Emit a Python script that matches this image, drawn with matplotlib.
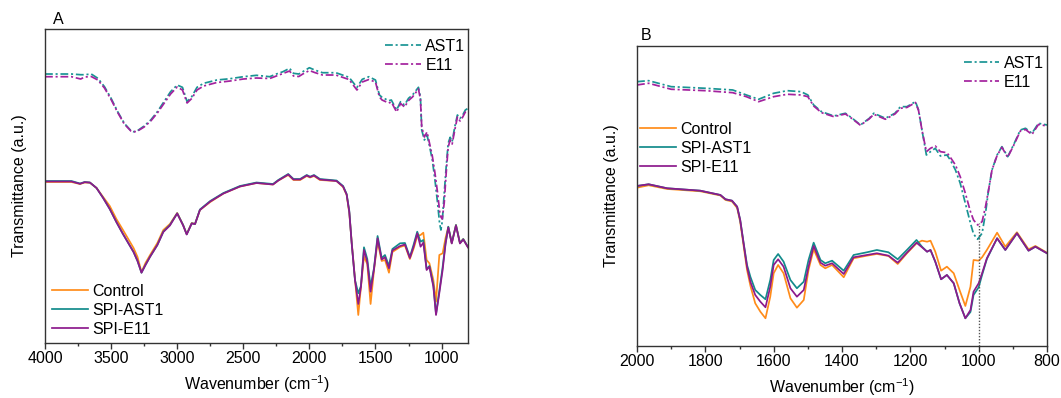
import matplotlib
matplotlib.use("Agg")
import matplotlib.pyplot as plt
from matplotlib.ticker import MultipleLocator

plt.rcParams['font.family'] = ['Liberation Sans', 'DejaVu Sans']
plt.rcParams['mathtext.fontset'] = 'custom'
plt.rcParams['mathtext.rm'] = 'Liberation Sans'
plt.rcParams['mathtext.it'] = 'Liberation Sans'

# ---------------- Panel A data ----------------
wA_top = [4000, 3800, 3730, 3700, 3650, 3600, 3550, 3500, 3450, 3400, 3350, 3330, 3300, 3250,
          3200, 3150, 3100, 3050, 3000, 2960, 2925, 2890, 2850, 2800, 2700, 2600, 2500, 2400,
          2300, 2250, 2200, 2150, 2120, 2080, 2050, 2000, 1960, 1900, 1800, 1700, 1640, 1600,
          1550, 1500, 1470, 1450, 1400, 1380, 1340, 1310, 1280, 1250, 1220, 1175, 1160, 1150,
          1130, 1110, 1090, 1070, 1050, 1030, 1015, 1005, 995, 980, 965, 950, 935, 920, 900,
          880, 860, 840, 820, 800]
ast1_A = [269, 269, 268.3, 268.3, 269, 264.7, 256.3, 244.7, 231.3, 219.7, 212.3, 211.3, 212.3, 217,
          223, 231.3, 241.3, 251.3, 258, 255.7, 241.3, 246.3, 255.7, 259.7, 263, 264.3, 266.3, 267.7,
          266.3, 269, 271.3, 274.7, 269.7, 269, 271.3, 275.3, 273, 270.3, 270.3, 265.7, 255.7, 263.7,
          266.3, 263, 248, 245.7, 242.3, 243, 233, 241.3, 238, 244.7, 248, 255.7, 246.3, 213,
          203, 208, 196.3, 183, 163, 139.7, 119.7, 113, 121.3, 149.7, 176.3, 199.7, 205.7, 201.3, 216.3,
          228, 224.7, 228, 233, 234.7]
e11_A = [266.3, 266.3, 264, 266, 266.5, 263, 255, 243.5, 230.5, 219, 212, 211, 212, 216,
         222, 230, 239.5, 249, 256, 253, 240, 244.5, 253, 257, 260.5, 262, 264, 265,
         264.5, 267, 269.5, 272, 267, 266.5, 269, 272.5, 270.5, 268, 268, 263.5, 253, 261,
         263.5, 261, 246, 243, 240, 241, 231, 239.5, 236, 242.5, 246, 254, 244, 216,
         206, 211, 199, 187, 170, 150, 132, 126, 124, 140, 170, 196, 203, 199, 213,
         226, 222, 226, 231, 233]

wA_bot = [4000, 3800, 3735, 3700, 3660, 3610, 3560, 3510, 3460, 3410, 3370, 3330, 3300, 3270,
          3240, 3205, 3150, 3105, 3055, 3000, 2955, 2928, 2890, 2865, 2828, 2750, 2650, 2525,
          2400, 2275, 2235, 2160, 2120, 2070, 2020, 1995, 1965, 1920, 1795, 1745, 1718, 1698,
          1680, 1655, 1630, 1610, 1587, 1562, 1537, 1511, 1484, 1453, 1428, 1398, 1372, 1314,
          1277, 1240, 1210, 1184, 1159, 1138, 1113, 1092, 1062, 1042, 1017, 992, 970, 949,
          923, 891, 861, 836, 800]
control_A = [161, 161, 159, 160.5, 160.3, 155, 146, 137, 124, 113, 104, 95, 86, 71,
             80, 88, 100, 113, 119, 130, 118, 109, 120, 119, 133, 141, 149.5, 156.5,
             160, 158.5, 162.5, 168, 163, 163, 167, 165.5, 167, 163, 162, 156, 148, 130,
             101, 64, 28, 56, 86.3, 79, 39, 73, 101.3, 82, 83, 70.3, 91, 96,
             97.5, 84, 95, 107, 108, 110.3, 83, 79.7, 63, 41.3, 88, 89.7, 105, 116,
             100, 118, 100, 104, 96]
spi_ast1_A = [162, 162, 159.5, 161, 160.5, 155, 145, 134, 121, 109, 100, 91, 82, 70.3,
              78, 86.3, 98, 111.3, 118, 129.7, 118, 108.7, 119.7, 119, 133.5, 142, 150, 157,
              160.5, 159, 163, 169, 164, 164, 168, 166.3, 168, 164, 162.5, 157, 149, 132,
              100, 63, 49.7, 57, 95.7, 84, 56.3, 75, 107, 85, 88, 77, 94, 99.7,
              100, 86, 99, 111.3, 101.3, 103, 74, 77, 58, 29, 52, 76, 100, 116.3,
              100, 118, 100, 104, 96]
spi_e11_A = [161.5, 161.5, 159.2, 160.8, 160.4, 155, 145, 134, 121, 109, 100, 91, 82, 70.3,
             78, 86.3, 98, 111, 117.5, 129.5, 117.5, 108.5, 119.5, 119, 133, 141.5, 149.5, 156.5,
             160, 158.5, 162.5, 168.5, 163.5, 163.5, 167.5, 166, 167.5, 163.5, 162, 156.5, 148.5, 131,
             100, 63, 39, 56, 93, 81, 51.3, 74, 104.7, 83.5, 85.7, 74.7, 92.5, 97,
             98.5, 85, 97, 109.7, 96.3, 100.3, 73, 76.3, 56.3, 28, 50, 73, 99, 115.5,
             99.5, 117.5, 99.5, 103.5, 95.5]

# ---------------- Panel B data ----------------
wB_top = [2000, 1966, 1900, 1800, 1720, 1680, 1644, 1600, 1560, 1520, 1500, 1483, 1460, 1424,
          1390, 1370, 1346, 1320, 1307, 1273, 1245, 1229, 1210, 1185, 1176, 1166, 1153, 1141,
          1127, 1112, 1093, 1083, 1068, 1054, 1039, 1024, 1015, 1003, 990, 980, 971, 961,
          946, 932, 915, 898, 878, 863, 844, 825, 800]
ast1_B = [264.3, 265.3, 259.3, 257.7, 256, 251, 246.7, 252.7, 255.3, 254.3, 251, 241, 234.3, 230,
          232.7, 227.7, 221, 227.7, 232.7, 227.7, 232.7, 239.3, 239.3, 244.3, 236, 216, 191, 194.3,
          197.7, 190, 191, 186, 176, 162.7, 142.7, 122.7, 112, 106.7, 112.7, 132.7, 156, 176,
          191, 199.3, 189.3, 201, 216, 217.7, 212.7, 222.7, 221]
e11_B = [261, 262.7, 256.7, 255.3, 253.3, 249.3, 244.3, 249.3, 251.7, 251, 249.3, 240, 233.3, 229.3,
         232, 227.2, 220.7, 227.2, 231.7, 226.7, 232, 237.7, 238.5, 243.5, 235.5, 216, 194.3, 197.7,
         200, 194.3, 193.3, 188.7, 181, 169.3, 152.7, 134.3, 126, 121, 124.3, 139.3, 156, 176,
         190.5, 198.7, 188.7, 200.3, 215, 216.5, 211.5, 221.5, 220]

wB_bot = [2000, 1966, 1912, 1815, 1756, 1741, 1722, 1707, 1698, 1688, 1678, 1668, 1654, 1639,
          1624, 1610, 1600, 1587, 1571, 1551, 1532, 1512, 1498, 1483, 1463, 1449, 1429, 1395,
          1366, 1327, 1298, 1264, 1237, 1210, 1182, 1166, 1151, 1141, 1127, 1110, 1093, 1073,
          1056, 1039, 1024, 1015, 1000, 990, 976, 946, 922, 888, 854, 834, 800]
control_B = [158.3, 160.7, 157, 154.7, 150.5, 146, 144.5, 138, 124, 100, 76, 60, 42.7, 34.3,
             27.7, 49.3, 72.7, 81, 72.7, 47.7, 38.3, 46, 76, 96.7, 81, 77.7, 81, 68.7,
             87.7, 90.3, 92, 90, 82, 92.7, 102.7, 105.3, 104.3, 105.3, 94.3, 75.3, 79.3, 72.7,
             56, 40, 59.3, 86, 85.3, 88.7, 96, 113.3, 99.3, 113.7, 96.7, 100, 93.3]
spi_ast1_B = [160, 161.7, 157.7, 155.3, 151, 146.7, 145.3, 139.3, 126, 103, 81, 69, 56, 51,
              46.7, 66, 86, 92, 84.3, 66, 57.7, 64.3, 86, 103.3, 86, 82.7, 85.3, 75.3,
              91, 93.7, 96, 93.7, 86.7, 96, 106, 99.3, 94.3, 96, 84.3, 66.7, 71, 62.7,
              42.7, 27.7, 34, 51, 58.7, 71, 87, 107.7, 96, 112.7, 95.3, 99.3, 92.7]
spi_e11_B = [160, 161.7, 157.7, 155.3, 151, 146.7, 145.3, 139.3, 126, 102.5, 79, 64, 51, 44.3,
             38.7, 59.3, 81, 86.7, 79.3, 57.7, 49.3, 56, 79.3, 100, 83.3, 80.3, 82.7, 72,
             88.7, 91, 92.7, 90.3, 83.3, 93.3, 103.3, 98.7, 94.3, 96, 84.3, 66.7, 71, 62.7,
             42.7, 27.7, 36, 54.3, 62.7, 72.7, 87.7, 107.7, 96, 112.7, 95.3, 99.3, 92.7]

# dotted guide line in panel B (wavenumber, top value)
guide_x_B = 1000
guide_top_B = 122.7

# ---------------- Styles ----------------
C_ORANGE = '#ff8c1a'
C_TEAL = '#128b8b'
C_PURPLE = '#8c1a8c'
C_TEAL_D = '#1a9494'
C_MAG_D = '#a3229e'
DASHDOT = (0, (4.5, 1.6, 1.2, 1.6))
LW = 1.25
FS = 11.5

fig = plt.figure(figsize=(10.61, 3.98), dpi=100)
axA = fig.add_axes([0.0424, 0.1382, 0.3987, 0.7889])
axB = fig.add_axes([0.6004, 0.1307, 0.3864, 0.7538])


def style_axis(ax):
    for s in ax.spines.values():
        s.set_color('#333333')
        s.set_linewidth(1.0)
    ax.set_yticks([])
    ax.tick_params(axis='x', which='major', direction='out', length=4, width=1,
                   labelsize=FS, colors='#333333', labelcolor='black', pad=2)
    ax.tick_params(axis='x', which='minor', direction='out', length=2.5, width=1,
                   colors='#333333')
    ax.set_xlabel('Wavenumber (cm$^{-1}$)', fontsize=FS, labelpad=5)
    ax.set_ylabel('Transmittance (a.u.)', fontsize=FS, labelpad=13)


LEG = dict(frameon=False, fontsize=FS, handlelength=2.2, handletextpad=0.3,
           labelspacing=0.25, borderaxespad=0.2)

# Panel A
lA1, = axA.plot(wA_top, ast1_A, color=C_TEAL_D, lw=LW, ls=DASHDOT, label='AST1')
lA2, = axA.plot(wA_top, e11_A, color=C_MAG_D, lw=LW, ls=DASHDOT, label='E11')
lA3, = axA.plot(wA_bot, control_A, color=C_ORANGE, lw=LW, label='Control')
lA4, = axA.plot(wA_bot, spi_ast1_A, color=C_TEAL, lw=LW, label='SPI-AST1')
lA5, = axA.plot(wA_bot, spi_e11_A, color=C_PURPLE, lw=LW, label='SPI-E11')
axA.set_xlim(4000, 800)
axA.set_ylim(0, 314)
axA.xaxis.set_major_locator(MultipleLocator(500))
axA.xaxis.set_minor_locator(MultipleLocator(250))
style_axis(axA)
axA.text(0.02, 1.005, 'A', transform=axA.transAxes, fontsize=FS, ha='left', va='bottom')
legA1 = axA.legend(handles=[lA1, lA2], loc='upper right', bbox_to_anchor=(1.0165, 1.0), **LEG)
axA.add_artist(legA1)
axA.legend(handles=[lA3, lA4, lA5], loc='lower left', bbox_to_anchor=(-0.005, -0.01), **LEG)

# Panel B
lB1, = axB.plot(wB_top, ast1_B, color=C_TEAL_D, lw=LW, ls=DASHDOT, label='AST1')
lB2, = axB.plot(wB_top, e11_B, color=C_MAG_D, lw=LW, ls=DASHDOT, label='E11')
lB3, = axB.plot(wB_bot, control_B, color=C_ORANGE, lw=LW, label='Control')
lB4, = axB.plot(wB_bot, spi_ast1_B, color=C_TEAL, lw=LW, label='SPI-AST1')
lB5, = axB.plot(wB_bot, spi_e11_B, color=C_PURPLE, lw=LW, label='SPI-E11')
axB.set_xlim(2000, 800)
axB.set_ylim(0, 300)
axB.xaxis.set_major_locator(MultipleLocator(200))
axB.xaxis.set_minor_locator(MultipleLocator(100))
axB.vlines(guide_x_B, 0, guide_top_B, colors='#555555', linestyles=(0, (1, 1.2)), lw=1.0)
style_axis(axB)
axB.text(0.01, 1.01, 'B', transform=axB.transAxes, fontsize=FS, ha='left', va='bottom')
legB1 = axB.legend(handles=[lB1, lB2], loc='upper right', bbox_to_anchor=(1.015, 1.0), **LEG)
axB.add_artist(legB1)
axB.legend(handles=[lB3, lB4, lB5], loc='upper left', bbox_to_anchor=(-0.015, 0.78), **LEG)

fig.savefig('out.png', dpi=100)
